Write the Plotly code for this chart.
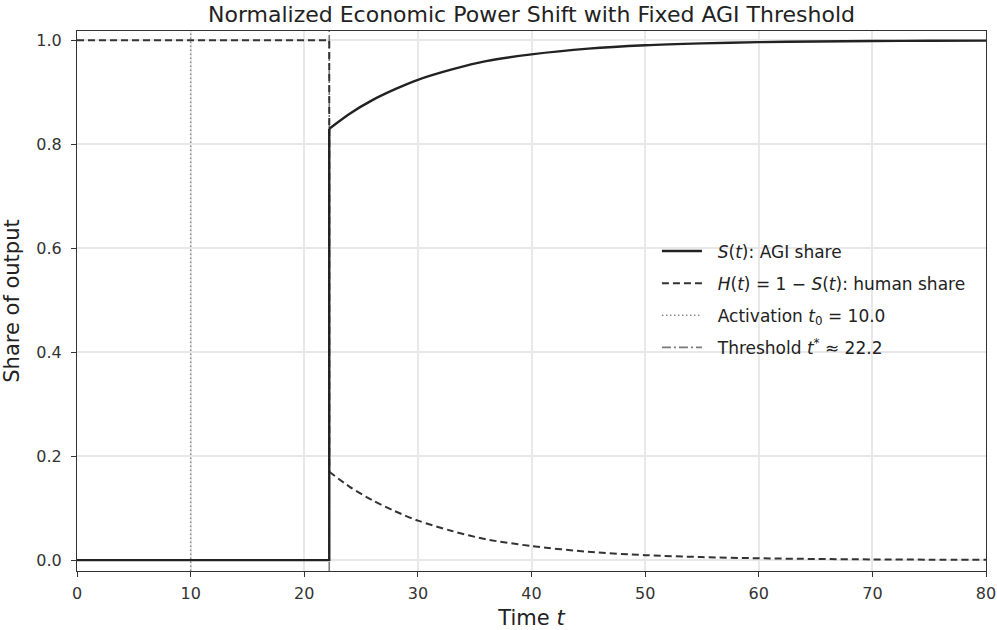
import plotly.graph_objects as go

# ---- data ----
t_star = 22.2
t_act = 10.0

# time points after the threshold
t_post = [22.2, 24, 26, 28, 30, 33, 36, 40, 45, 50, 55, 60, 65, 70, 75, 80]
h_post = [0.170, 0.141, 0.115, 0.094, 0.076, 0.056, 0.040, 0.027, 0.016, 0.0095,
          0.0058, 0.0035, 0.0021, 0.0013, 0.0008, 0.0005]
s_post = [0.830, 0.859, 0.885, 0.906, 0.924, 0.944, 0.960, 0.973, 0.984, 0.9905,
          0.9942, 0.9965, 0.9979, 0.9987, 0.9992, 0.9995]

# before the threshold (flat, then the vertical jump at t*)
t_pre = [0.0, 22.2, 22.2]
s_pre = [0.0, 0.0, 0.830]
h_pre = [1.0, 1.0, 0.170]

x_ticks = [0, 10, 20, 30, 40, 50, 60, 70, 80]
y_ticks = [0.0, 0.2, 0.4, 0.6, 0.8, 1.0]
y_tick_text = ["0.0", "0.2", "0.4", "0.6", "0.8", "1.0"]

FONT = "DejaVu Sans"
Y_RANGE = [-0.021, 1.018]

fig = go.Figure()

# threshold line (dash-dot)
fig.add_trace(go.Scatter(
    x=[t_star, t_star], y=Y_RANGE, mode="lines",
    line=dict(color="#7a7a7a", width=1.6, dash="9px,3px,2px,3px"),
    name="&nbsp;&nbsp;Threshold <i>t</i><sup>*</sup> ≈ 22.2", legendrank=4, legendgroup="thr"))

# activation line (dotted)
fig.add_trace(go.Scatter(
    x=[t_act, t_act], y=Y_RANGE, mode="lines",
    line=dict(color="#8a8a8a", width=1.4, dash="1.5px,2.5px"),
    name="&nbsp;&nbsp;Activation <i>t</i><sub>0</sub> = 10.0", legendrank=3, legendgroup="act"))

# H(t)
fig.add_trace(go.Scatter(
    x=t_pre, y=h_pre, mode="lines",
    line=dict(color="#333333", width=2.0, dash="7px,4px"),
    name="&nbsp;&nbsp;<i>H</i>(<i>t</i>) = 1 − <i>S</i>(<i>t</i>): human share",
    legendrank=2, legendgroup="H"))
fig.add_trace(go.Scatter(
    x=t_post, y=h_post, mode="lines",
    line=dict(color="#333333", width=2.0, dash="7px,4px", shape="spline", smoothing=0.8),
    showlegend=False, legendgroup="H"))

# S(t)
fig.add_trace(go.Scatter(
    x=t_pre, y=s_pre, mode="lines",
    line=dict(color="#222222", width=2.4),
    name="&nbsp;&nbsp;<i>S</i>(<i>t</i>): AGI share", legendrank=1, legendgroup="S"))
fig.add_trace(go.Scatter(
    x=t_post, y=s_post, mode="lines",
    line=dict(color="#222222", width=2.4, shape="spline", smoothing=0.8),
    showlegend=False, legendgroup="S"))

axis_common = dict(
    showline=True, linecolor="#333333", linewidth=1.2, mirror=True,
    ticks="outside", ticklen=5, tickwidth=1.2, tickcolor="#333333",
    showgrid=True, gridcolor="#e8e8e8", gridwidth=1.5,
    zeroline=False, automargin=False,
    tickfont=dict(family=FONT, size=16, color="#333333"),
)

fig.update_layout(
    width=997, height=630,
    margin=dict(l=77, r=11, t=31, b=59),
    paper_bgcolor="white", plot_bgcolor="white",
    title=dict(text="Normalized Economic Power Shift with Fixed AGI Threshold",
               x=(77 + 986) / 2 / 997, xanchor="center",
               y=1 - 14 / 630, yanchor="middle",
               font=dict(family=FONT, size=22, color="#222222")),
    xaxis=dict(range=[0, 80], tickvals=x_ticks, ticklabelstandoff=3,
               title=dict(text="Time <i>t</i>", font=dict(family=FONT, size=21, color="#222222"),
                          standoff=10),
               **axis_common),
    yaxis=dict(range=Y_RANGE, tickvals=y_ticks, ticktext=y_tick_text, ticklabelstandoff=6,
               title=dict(text="Share of output", font=dict(family=FONT, size=21, color="#222222"),
                          standoff=10),
               **axis_common),
    legend=dict(x=0.638, y=0.625, xanchor="left", yanchor="top",
                bgcolor="rgba(255,255,255,0)", borderwidth=0,
                font=dict(family=FONT, size=17, color="#222222"),
                tracegroupgap=7, itemwidth=40),
    showlegend=True,
)

fig.write_html("out.html", config={"displayModeBar": False},
               post_script="document.body.style.margin='0';document.body.style.padding='0';")
